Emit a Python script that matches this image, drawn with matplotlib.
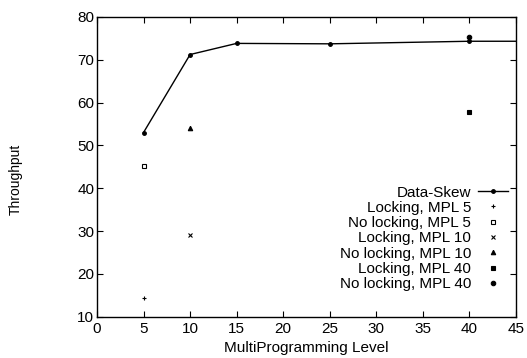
import matplotlib
matplotlib.use("Agg")
import matplotlib.pyplot as plt

# Data
mpl_levels = [5, 10, 15, 25, 40, 45]
skew_throughput = [53.0, 71.2, 73.8, 73.7, 74.3, 74.3]

single_points = [
    ("Locking, MPL 5", 5, 14.5, "+"),
    ("No locking, MPL 5", 5, 45.2, "s"),
    ("Locking, MPL 10", 10, 29.2, "x"),
    ("No locking, MPL 10", 10, 54.0, "^"),
    ("Locking, MPL 40", 40, 57.8, "s"),
    ("No locking, MPL 40", 40, 75.2, "o"),
]
open_marker = {"No locking, MPL 5"}

x_ticks = list(range(0, 50, 5))
y_ticks = list(range(10, 90, 10))

plt.rcParams["font.family"] = ["Liberation Sans", "DejaVu Sans"]
plt.rcParams["font.size"] = 11

fig = plt.figure(figsize=(5.27, 3.58), dpi=100)
ax = fig.add_axes([0.184, 0.115, 0.795, 0.838])

# last point sits on the frame, no marker drawn there
ax.plot(mpl_levels, skew_throughput, "k-", marker="o", markersize=2.5,
        markevery=list(range(len(mpl_levels) - 1)),
        linewidth=1.0, label="Data-Skew")
for name, x, y, m in single_points:
    face = "white" if name in open_marker else "black"
    ax.plot([x], [y], linestyle="none", marker=m, markersize=3.2,
            markerfacecolor=face, markeredgecolor="black",
            markeredgewidth=0.8, label=name)

ax.set_xlim(0, 45)
ax.set_ylim(10, 80)
ax.set_xticks(x_ticks)
ax.set_yticks(y_ticks)
ax.tick_params(direction="in", length=4, width=0.8, top=True, right=True,
               labelsize=11, pad=4)
ax.tick_params(axis="y", pad=2)
for s in ax.spines.values():
    s.set_linewidth(1.0)

ax.set_xlabel("MultiProgramming Level", labelpad=3, fontsize=11)
ax.set_ylabel("Throughput", fontsize=10)
ax.yaxis.set_label_coords(-0.176, 0.457)

leg = ax.legend(loc="lower right", bbox_to_anchor=(0.982, 0.085),
                markerfirst=False, frameon=False, fontsize=11,
                handlelength=2.0, labelspacing=0.085, handletextpad=0.45,
                borderaxespad=0.0, borderpad=0.0)

fig.savefig("out.png", dpi=100)
